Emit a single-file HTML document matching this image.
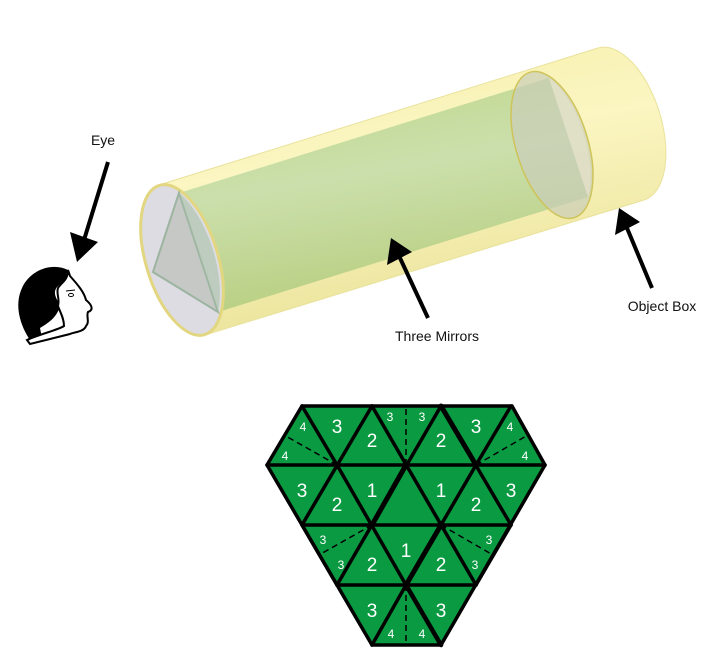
<!DOCTYPE html>
<html><head><meta charset="utf-8"><style>html,body{margin:0;padding:0;background:#fff}svg{display:block}</style></head>
<body>
<svg width="721" height="671" viewBox="0 0 721 671" xmlns="http://www.w3.org/2000/svg" font-family="Liberation Sans, sans-serif">
<defs>
<linearGradient id="gy" x1="0" y1="0" x2="0.3" y2="1">
<stop offset="0" stop-color="#f3ec9a"/><stop offset="0.45" stop-color="#fbf5b8"/><stop offset="1" stop-color="#e8df8a"/>
</linearGradient>
<linearGradient id="gg" x1="0" y1="0" x2="0.3" y2="1">
<stop offset="0" stop-color="#b7d27e"/><stop offset="0.5" stop-color="#c6ddaa"/><stop offset="1" stop-color="#b2cc7c"/>
</linearGradient>
</defs>
<path d="M159,185 L598,48 A40,79 -17 0 1 644,200 L205,335 Z" fill="url(#gy)" opacity="0.85" stroke="#e6dd8a" stroke-width="1"/>
<polygon points="179,193 549,78 588,197 218,312" fill="url(#gg)" opacity="0.9"/>
<ellipse cx="552" cy="145" rx="36" ry="76" transform="rotate(-17 552 145)" fill="#c9cdb8" fill-opacity="0.7" stroke="#cfc45a" stroke-width="1.5"/>
<path d="M549,78 L588,197 A36,76 -17 0 0 549,78 Z" fill="#e4e2cc" opacity="0.7"/>
<ellipse cx="182" cy="260" rx="36" ry="78" transform="rotate(-17 182 260)" fill="#dcdce2" stroke="#e2d680" stroke-width="3"/>
<polygon points="179,193 153,272 218,312" fill="#c6c8c6" stroke="#9cb4a0" stroke-width="2"/>
<path d="M179,193 L218,312 A36,78 -17 0 0 179,193 Z" fill="#a9c2a8" opacity="0.6"/>
<g stroke="#000" stroke-width="4">
<line x1="108" y1="162" x2="84" y2="240"/>
<line x1="428" y1="318" x2="400" y2="258"/>
<line x1="652" y1="288" x2="627" y2="228"/>
</g>
<polygon points="77,262 70,232 98,242" fill="#000"/>
<polygon points="391,238 387,265 412,252" fill="#000"/>
<polygon points="619,208 615,235 640,222" fill="#000"/>
<g font-size="14" fill="#111" text-anchor="middle">
<text x="103" y="145">Eye</text>
<text x="437" y="341">Three Mirrors</text>
<text x="662" y="311">Object Box</text>
</g>
<path d="M68,270 C52,262 30,270 22,288 C14,305 20,325 30,340 L42,338 L40,328 C50,322 58,316 60,305 C56,298 52,292 58,286 C62,282 68,280 70,276 Z" fill="#000"/>
<path d="M68,270 L70,276 C78,285 84,292 86,300 C92,305 94,310 88,312 C86,316 90,322 86,326 C84,332 74,332 70,334 L30,344 L27,340 C40,334 58,330 64,326 C64,318 60,312 58,306 C60,298 56,294 58,288 C62,282 68,280 68,270 Z" fill="#fff" stroke="#000" stroke-width="2"/>
<ellipse cx="71" cy="295" rx="2.5" ry="1.6" fill="none" stroke="#000" stroke-width="1"/>
<path d="M66,291 L75,290" stroke="#000" stroke-width="1"/>
<polygon points="302,406 512,406 545,465 441,645 372,645 267,465" fill="#0a9a42"/>
<g stroke="#000" stroke-width="3.5" stroke-linecap="round" fill="none">
<polygon points="302,406 512,406 545,465 441,645 372,645 267,465"/>
<line x1="267" y1="465" x2="545" y2="465"/>
<line x1="302" y1="525" x2="511" y2="525"/>
<line x1="337" y1="585" x2="476" y2="585"/>
<line x1="302" y1="406" x2="337" y2="465"/>
<line x1="372" y1="406" x2="476" y2="585"/>
<line x1="441" y1="406" x2="511" y2="525"/>
<line x1="337" y1="465" x2="406" y2="585"/>
<line x1="302" y1="525" x2="337" y2="585"/>
<line x1="406" y1="585" x2="441" y2="645" stroke-width="4.5"/>
<line x1="511" y1="406" x2="476" y2="465"/>
<line x1="441" y1="406" x2="337" y2="585"/>
<line x1="372" y1="406" x2="302" y2="525"/>
<line x1="476" y1="465" x2="406" y2="585"/>
<line x1="511" y1="525" x2="476" y2="585"/>
<line x1="406" y1="585" x2="372" y2="645"/>
<line x1="406" y1="465" x2="372" y2="525" stroke-width="5"/>
<line x1="441" y1="525" x2="406" y2="585" stroke-width="5"/>
<line x1="441" y1="406" x2="476" y2="465" stroke-width="5"/>
</g>
<g stroke="#000" stroke-width="1.5" stroke-dasharray="6,4">
<line x1="337" y1="465" x2="284" y2="435"/>
<line x1="476" y1="465" x2="528" y2="435"/>
<line x1="406" y1="465" x2="406" y2="406"/>
<line x1="372" y1="525" x2="319" y2="555"/>
<line x1="441" y1="525" x2="493" y2="555"/>
<line x1="406" y1="585" x2="406" y2="645"/>
</g>
<g fill="#fff" font-size="19" text-anchor="middle">
<text x="337" y="433">3</text><text x="372" y="447">2</text><text x="441" y="447">2</text><text x="476" y="433">3</text>
<text x="302" y="497">3</text><text x="337" y="511">2</text><text x="372" y="497">1</text><text x="441" y="497">1</text><text x="476" y="511">2</text><text x="511" y="497">3</text>
<text x="372" y="571">2</text><text x="406" y="557">1</text><text x="441" y="571">2</text>
<text x="372" y="617">3</text><text x="441" y="617">3</text>
</g>
<g fill="#fff" font-size="12" text-anchor="middle">
<text x="303" y="431">4</text><text x="285" y="460">4</text>
<text x="390" y="421">3</text><text x="422" y="421">3</text>
<text x="510" y="431">4</text><text x="525" y="460">4</text>
<text x="323" y="544">3</text><text x="341" y="569">3</text>
<text x="489" y="544">3</text><text x="475" y="569">3</text>
<text x="391" y="638">4</text><text x="422" y="638">4</text>
</g>
</svg>
</body></html>
